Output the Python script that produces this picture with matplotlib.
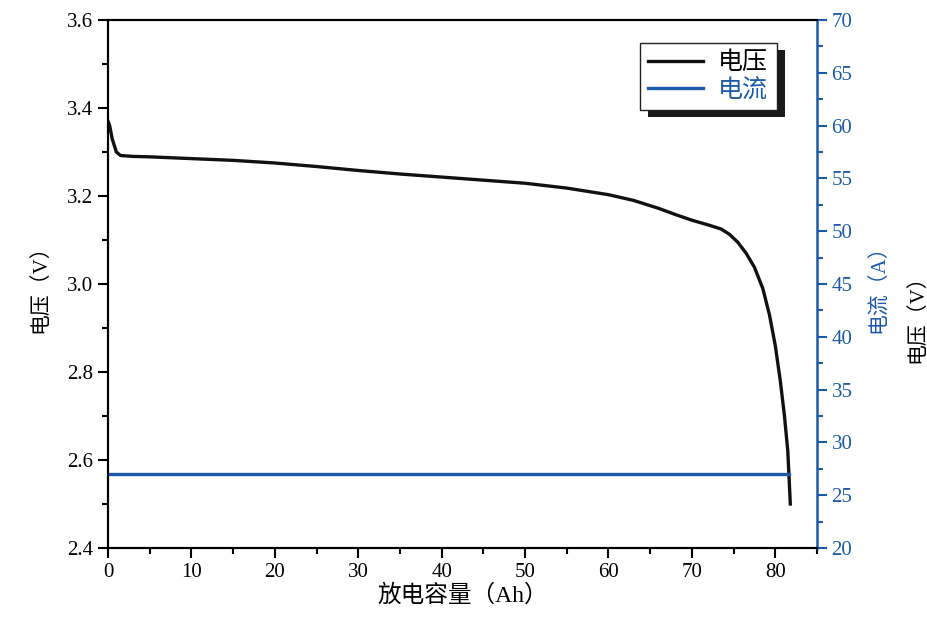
import matplotlib
matplotlib.use("Agg")
from matplotlib import pyplot as plt
from matplotlib.patches import Rectangle
from matplotlib.ticker import MultipleLocator
from matplotlib.transforms import IdentityTransform

plt.rcParams['font.family'] = ['Liberation Serif', 'Noto Sans CJK SC']

# discharge curve
cap = [0, 0.2, 0.5, 1.0, 1.5, 3, 5, 10, 15, 20, 25, 30, 35, 40, 45, 50, 55, 60,
       63, 66, 68, 70, 72, 73.5, 74.5, 75.5, 76.5, 77.5, 78.5, 79.3, 80, 80.6, 81.1,
       81.5, 81.8]
volt = [3.37, 3.36, 3.33, 3.30, 3.292, 3.290, 3.289, 3.285, 3.281, 3.275, 3.267, 3.258,
        3.25, 3.243, 3.236, 3.229, 3.218, 3.203, 3.19, 3.172, 3.158, 3.145, 3.134, 3.125,
        3.113, 3.095, 3.07, 3.038, 2.99, 2.93, 2.86, 2.78, 2.70, 2.62, 2.50]
cur_cap = [0, 81.7]
current = [27, 27]

xticks = [0, 10, 20, 30, 40, 50, 60, 70, 80]
vticks = [2.4, 2.6, 2.8, 3.0, 3.2, 3.4, 3.6]
aticks = [20, 25, 30, 35, 40, 45, 50, 55, 60, 65, 70]

blue = '#1d5aa8'

fig = plt.figure(figsize=(9.27, 6.28), dpi=100)
ax = fig.add_axes([108/927, 1-548/628, 709/927, 528/628])
ax2 = ax.twinx()

l1, = ax.plot(cap, volt, color='#111111', lw=2.4, label='电压')
l2, = ax2.plot(cur_cap, current, color=blue, lw=2.4, label='电流')

ax.set_xlim(0, 85)
ax.set_ylim(2.4, 3.6)
ax2.set_ylim(20, 70)
ax.set_xticks(xticks)
ax.set_yticks(vticks)
ax2.set_yticks(aticks)
ax.xaxis.set_minor_locator(MultipleLocator(5))
ax.yaxis.set_minor_locator(MultipleLocator(0.1))
ax2.yaxis.set_minor_locator(MultipleLocator(2.5))

ax.tick_params(axis='both', which='major', direction='out', length=7, width=1.5,
               labelsize=15, top=False, right=False)
ax.tick_params(axis='both', which='minor', direction='out', length=4, width=1.5,
               top=False, right=False)
ax2.tick_params(axis='y', which='major', direction='out', length=7, width=1.5,
                labelsize=15, colors=blue)
ax2.tick_params(axis='y', which='minor', direction='out', length=4, width=1.5, colors=blue)

for s in ['left', 'bottom', 'top']:
    ax.spines[s].set_linewidth(1.5)
    ax2.spines[s].set_linewidth(1.5)
ax.spines['right'].set_visible(False)
ax2.spines['right'].set_color(blue)
ax2.spines['right'].set_linewidth(1.8)

ax.set_xlabel('放电容量（Ah）', fontsize=17, labelpad=2)
ax.set_ylabel('电压（V）', fontsize=15, labelpad=12)
ax2.set_ylabel('电流（A）', fontsize=15, color=blue, labelpad=12)
fig.text(917/927, 0.5, '电压（V）', rotation=90, fontsize=15, ha='center', va='center')

leg = ax2.legend([l1, l2], ['电压', '电流'], loc='upper right',
                 bbox_to_anchor=(0.9436, 0.9564), borderaxespad=0, fontsize=18,
                 frameon=True, fancybox=False, edgecolor='#222222', framealpha=1,
                 handlelength=2.2, handletextpad=0.6, labelspacing=0.15,
                 borderpad=0.35)
leg.get_frame().set_linewidth(1.0)
leg.get_texts()[1].set_color(blue)
leg.set_zorder(6)

# legend drop shadow
fig.canvas.draw()
bb = leg.get_window_extent()
ax2.add_patch(Rectangle((bb.x0 + 8, bb.y0 - 7), bb.width, bb.height,
                        transform=IdentityTransform(), facecolor='#1a1a1a',
                        edgecolor='none', zorder=5.5, clip_on=False))

fig.savefig('out.png', dpi=100)
